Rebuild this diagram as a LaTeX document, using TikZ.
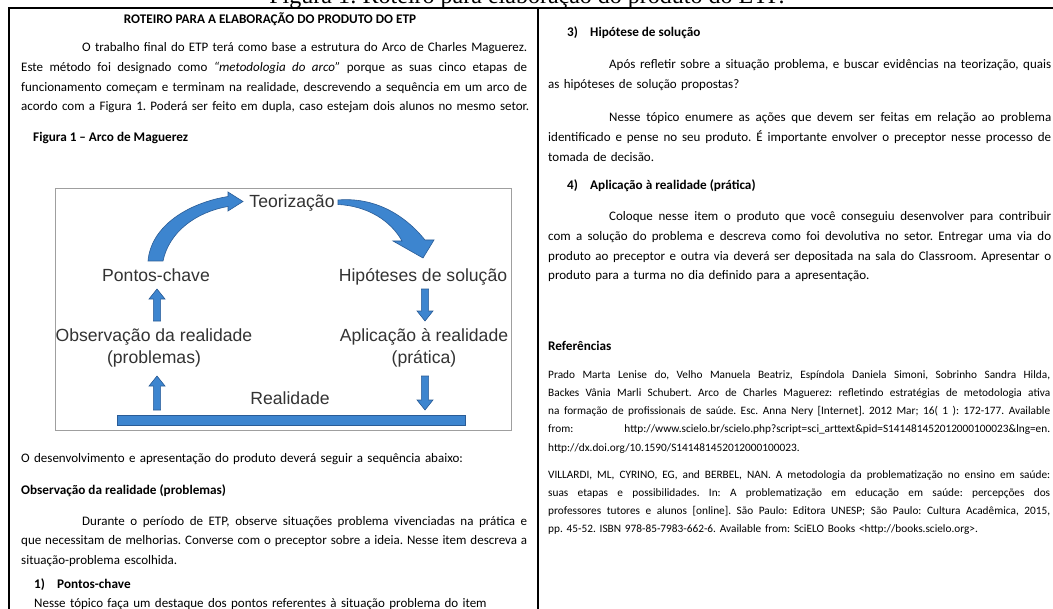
\documentclass[tikz,border=0pt]{standalone}
\usepackage{fontspec}
\setmainfont{Carlito}
\newfontfamily\figfont{Liberation Sans}
\newfontfamily\capfont{Liberation Serif}
\usetikzlibrary{calc}
\definecolor{arrowblue}{HTML}{3D85CF}
\definecolor{arrowdark}{HTML}{2A5C96}
\definecolor{figgray}{HTML}{333333}
\newcommand\bodysize{\fontsize{13bp}{19.6bp}\selectfont}
\newcommand\headsize{\fontsize{13.2bp}{19.6bp}\selectfont}
\newcommand\refsize{\fontsize{11.3bp}{18.3bp}\selectfont}
\newcommand\jl[1]{\leavevmode\hbox to \hsize{\spaceskip=0.226em plus 2em minus 0.12em\relax
  \xspaceskip=\spaceskip #1}}
\newcommand\arrowup[2]{%
  \filldraw[barrow] ($(#1)+(-3.6,0)$) -- ($(#2)+(-3.6,10)$) -- ($(#2)+(-8,10)$) -- (#2)
  -- ($(#2)+(8,10)$) -- ($(#2)+(3.6,10)$) -- ($(#1)+(3.6,0)$) -- cycle;}
\newcommand\arrowdown[2]{%
  \filldraw[barrow] ($(#1)+(-3.6,0)$) -- ($(#2)+(-3.6,-10)$) -- ($(#2)+(-8,-10)$) -- (#2)
  -- ($(#2)+(8,-10)$) -- ($(#2)+(3.6,-10)$) -- ($(#1)+(3.6,0)$) -- cycle;}
\begin{document}
\frenchspacing
\begin{tikzpicture}[x=1bp,y=-1bp,
  para/.style={anchor=base west, inner sep=0pt, text width=#1, align=left, font=\bodysize},
  refpara/.style={anchor=base west, inner sep=0pt, text width=#1, align=left, font=\refsize},
  head/.style={anchor=base west, inner sep=0pt, font=\bfseries\headsize},
  lbl/.style={anchor=base, inner sep=0pt, align=center, text=figgray,
    font=\figfont\fontsize{17.6bp}{22bp}\selectfont},
  barrow/.style={fill=arrowblue, draw=arrowdark, line width=0.6bp, line join=miter},
  frame/.style={draw=black, line width=1.4bp},
  figbox/.style={draw=gray!75, line width=0.9bp}]
\useasboundingbox (0,0) rectangle (1053,609);
\clip (0,0) rectangle (1053,609);
\fill[white] (0,0) rectangle (1053,609);

% caption cut at the top
\node[anchor=base, inner sep=0pt, font=\capfont\fontsize{24bp}{28bp}\selectfont] (cap) at (527,4)
  {Figura 1: Roteiro para elaboração do produto do ETP.};

% page frame
\draw[frame] (9,609) -- (9,8) -- (1053,8);
\draw[frame] (538,8) -- (538,609);

% ---------- left column ----------
\node[anchor=base, inner sep=0pt, font=\bfseries\headsize] (title) at (270,24)
  {ROTEIRO PARA A ELABORAÇÃO DO PRODUTO DO ETP};

\node[para=506bp] (p1) at (21,52) {%
\jl{\hspace*{61bp}O trabalho final do ETP terá como base a estrutura do Arco de Charles Maguerez.}\\
\jl{Este método foi designado como \textit{“metodologia do arco”} porque as suas cinco etapas de}\\
\jl{funcionamento começam e terminam na realidade, descrevendo a sequência em um arco de}\\
\mbox{acordo com a Figura 1. Poderá ser feito em dupla, caso estejam dois alunos no mesmo setor.}};

\node[head] (fig1) at (33,142) {Figura 1 – Arco de Maguerez};

% figure
\draw[figbox] (55,188) rectangle (511,430);
\node[lbl] (teo) at (292,208) {Teorização};
\node[lbl] (pc) at (156,282) {Pontos-chave};
\node[lbl] (hip) at (423,282) {Hipóteses de solução};
\node[lbl] (obs) at (154,363) {Observação da realidade\\(problemas)};
\node[lbl] (apl) at (424,363) {Aplicação à realidade\\(prática)};
\node[lbl] (real) at (290,404) {Realidade};
\node[barrow, draw, inner sep=0pt, minimum width=348bp, minimum height=10bp] (bar) at (291,420) {};

\filldraw[barrow] (148,261) .. controls (151,226) and (188,203) .. (228,196.5)
  -- (228,192) -- (243,201.5) -- (228,211) -- (228,206.5)
  .. controls (196,212) and (169,232) .. (163,261) -- cycle;
\filldraw[barrow] (338,200) .. controls (374,197) and (404,214) .. (425,240)
  -- (434,240) -- (423,258) -- (393,241) -- (402,241)
  .. controls (391,221) and (368,206) .. (338,204.5) -- cycle;

\coordinate (a1s) at (157,321); \coordinate (a1e) at (157,289);
\coordinate (a2s) at (425,289); \coordinate (a2e) at (425,321);
\coordinate (a3s) at (157,410); \coordinate (a3e) at (157,376);
\coordinate (a4s) at (425,376); \coordinate (a4e) at (425,410);
\arrowup{a1s}{a1e}
\arrowdown{a2s}{a2e}
\arrowup{a3s}{a3e}
\arrowdown{a4s}{a4e}

\node[para=506bp] (p2) at (21,462)
  {O desenvolvimento e apresentação do produto deverá seguir a sequência abaixo:};
\node[head] (h1) at (21,494) {Observação da realidade (problemas)};
\node[para=506bp] (p3) at (21,525) {%
\jl{\hspace*{61bp}Durante o período de ETP, observe situações problema vivenciadas na prática e}\\
\jl{que necessitam de melhorias. Converse com o preceptor sobre a ideia. Nesse item descreva a}\\
situação-problema escolhida.};
\node[head] (n1) at (34,588) {1)};
\node[head] (h2) at (57,588) {Pontos-chave};
\node[para=490bp] (p4) at (34,607)
  {Nesse tópico faça um destaque dos pontos referentes à situação problema do item};

% ---------- right column ----------
\node[head] (n3) at (567,37) {3)};
\node[head] (h3) at (590,37) {Hipótese de solução};
\node[para=503bp] (p5) at (548,69) {%
\jl{\hspace*{61bp}Após refletir sobre a situação problema, e buscar evidências na teorização, quais}\\
as hipóteses de solução propostas?};
\node[para=503bp] (p6) at (548,122) {%
\jl{\hspace*{61bp}Nesse tópico enumere as ações que devem ser feitas em relação ao problema}\\
\jl{identificado e pense no seu produto. É importante envolver o preceptor nesse processo de}\\
tomada de decisão.};
\node[head] (n4) at (567,190) {4)};
\node[head] (h4) at (590,190) {Aplicação à realidade (prática)};
\node[para=503bp] (p7) at (548,221) {%
\jl{\hspace*{61bp}Coloque nesse item o produto que você conseguiu desenvolver para contribuir}\\
\jl{com a solução do problema e descreva como foi devolutiva no setor. Entregar uma via do}\\
\jl{produto ao preceptor e outra via deverá ser depositada na sala do Classroom. Apresentar o}\\
produto para a turma no dia definido para a apresentação.};

\node[head] (href) at (548,350) {Referências};
\node[refpara=502bp] (r1) at (548,378) {%
\jl{Prado Marta Lenise do, Velho Manuela Beatriz, Espíndola Daniela Simoni, Sobrinho Sandra Hilda,}\\
\jl{Backes Vânia Marli Schubert. Arco de Charles Maguerez: refletindo estratégias de metodologia ativa}\\
\jl{na formação de profissionais de saúde. Esc. Anna Nery [Internet]. 2012 Mar; 16( 1 ): 172-177. Available}\\
\jl{from: http://www.scielo.br/scielo.php?script=sci\_arttext\&pid=S141481452012000100023\&lng=en.}\\
http://dx.doi.org/10.1590/S141481452012000100023.};
\node[refpara=502bp] (r2) at (548,478) {%
\jl{VILLARDI, ML, CYRINO, EG, and BERBEL, NAN. A metodologia da problematização no ensino em saúde:}\\
\jl{suas etapas e possibilidades. In: A problematização em educação em saúde: percepções dos}\\
\jl{professores tutores e alunos [online]. São Paulo: Editora UNESP; São Paulo: Cultura Acadêmica, 2015,}\\
pp. 45-52. ISBN 978-85-7983-662-6. Available from: SciELO Books <http://books.scielo.org>.};
\end{tikzpicture}
\end{document}
